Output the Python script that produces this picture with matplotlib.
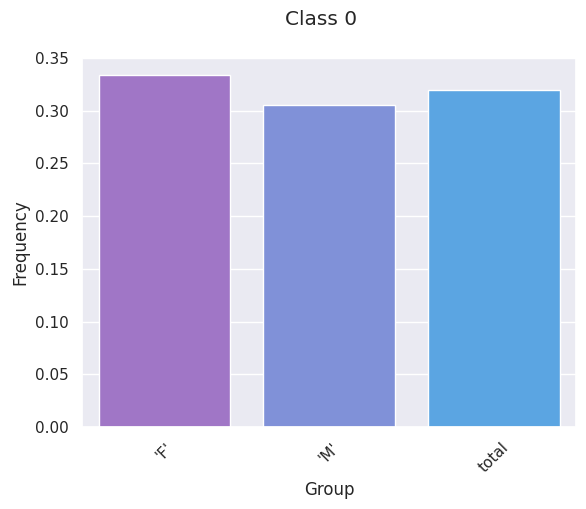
import matplotlib
matplotlib.use("Agg")
import matplotlib.pyplot as plt
import seaborn as sns

groups = ["'F'", "'M'", "total"]
freqs = [0.334, 0.3055, 0.3195]
colors = ["#a076c6", "#8091d8", "#5ba5e2"]

sns.set_theme(style="darkgrid")
fig = plt.figure(figsize=(5.86, 5.09), dpi=100)
ax = fig.add_axes([0.140, 0.161, 0.843, 0.725])
sns.barplot(x=groups, y=freqs, palette=colors, hue=groups, legend=False,
            saturation=1, ax=ax)
ax.set_ylim(0, 0.35)
ax.set_xlabel("Group")
ax.set_ylabel("Frequency")
# title sits a bit left of the axes centre in the original
ax.set_title("Class 0", fontsize=14.5, pad=24, x=0.483)
plt.setp(ax.get_xticklabels(), rotation=45)
fig.savefig("out.png", dpi=100)
